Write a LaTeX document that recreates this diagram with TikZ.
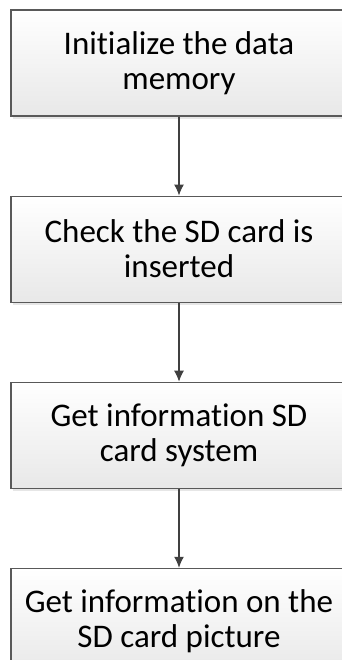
\documentclass[tikz,border=0pt]{standalone}
\usepackage{fontspec}
\setmainfont{Carlito}[Ligatures=CommonOff]
\usetikzlibrary{arrows.meta, positioning, shadows}

\begin{document}
\begin{tikzpicture}[
    x=1pt, y=1pt,
    node distance=79pt,
    % Defining node styles
    block/.style={rectangle, draw=black!65, line width=1.1pt, top color=white, bottom color=black!9, minimum width=336pt, minimum height=106pt, align=center, font=\fontsize{33}{35}\selectfont, drop shadow={shadow xshift=2pt, shadow yshift=-3pt, opacity=0.2}},
    connector/.style={-{Latex[length=11pt, width=10pt]}, line width=1.1pt, draw=black!75}
  ]
  \useasboundingbox (0,0) rectangle (342,-660);
  \clip (0,0) rectangle (342,-660);

  % Placing the steps vertically
  \node[block] (init) at (179,-63) {Initialize the data\\memory};
  \node[block, below=of init] (check) {Check the SD card is\\inserted};
  \node[block, below=of check] (sysinfo) {Get information SD\\card system};
  \node[block, below=of sysinfo] (picinfo) {Get information on the\\SD card picture};

  % Drawing connections
  \draw[connector] (init) -- (check);
  \draw[connector] (check) -- (sysinfo);
  \draw[connector] (sysinfo) -- (picinfo);
\end{tikzpicture}
\end{document}
